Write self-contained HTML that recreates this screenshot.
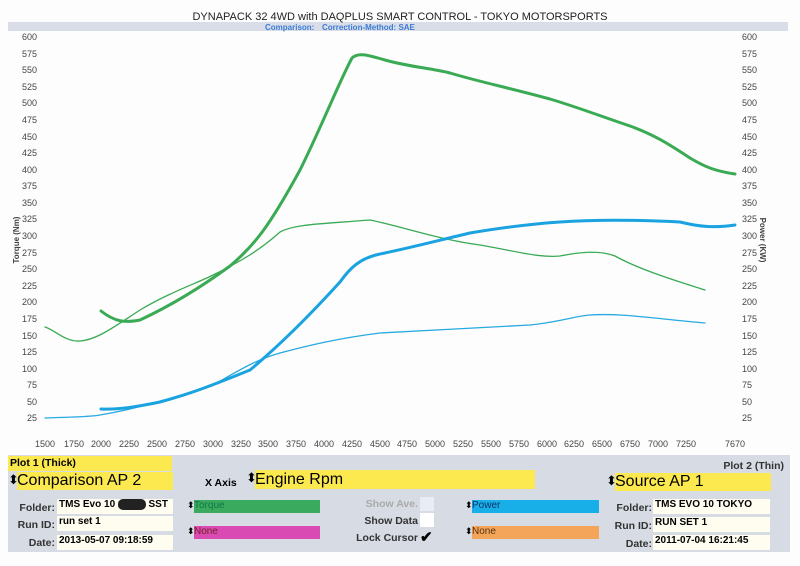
<!DOCTYPE html>
<html><head><style>
body{margin:0;background:#fff;font-family:"Liberation Sans",sans-serif;}
.w{position:relative;width:800px;height:566px;overflow:hidden;background:#fdfdfd}
.a{position:absolute;white-space:nowrap}
.y{background:#fce94f}
.f{background:#fffdf0;font-size:10px;font-weight:bold;padding-left:2px;box-sizing:border-box}
.l{font-size:10.5px;font-weight:bold;color:#333;text-align:right}
</style></head><body><div class="w">
<svg width="800" height="566" style="position:absolute;left:0;top:0">
<rect x="8" y="22" width="780" height="9" fill="#d8dde8"/>
<text x="400" y="20" font-size="11" text-anchor="middle" fill="#222" font-family="Liberation Sans">DYNAPACK 32 4WD with DAQPLUS SMART CONTROL - TOKYO MOTORSPORTS</text>
<text x="265" y="30" font-size="8" fill="#3a7bd5" font-weight="bold" font-family="Liberation Sans">Comparison:</text>
<text x="322" y="30" font-size="8" fill="#3a7bd5" font-weight="bold" font-family="Liberation Sans">Correction-Method: SAE</text>
<g font-size="9" fill="#444" font-family="Liberation Sans">
<text x="37" y="40" text-anchor="end">600</text><text x="742" y="40">600</text>
<text x="37" y="57" text-anchor="end">575</text><text x="742" y="57">575</text>
<text x="37" y="73" text-anchor="end">550</text><text x="742" y="73">550</text>
<text x="37" y="90" text-anchor="end">525</text><text x="742" y="90">525</text>
<text x="37" y="106" text-anchor="end">500</text><text x="742" y="106">500</text>
<text x="37" y="123" text-anchor="end">475</text><text x="742" y="123">475</text>
<text x="37" y="140" text-anchor="end">450</text><text x="742" y="140">450</text>
<text x="37" y="156" text-anchor="end">425</text><text x="742" y="156">425</text>
<text x="37" y="173" text-anchor="end">400</text><text x="742" y="173">400</text>
<text x="37" y="189" text-anchor="end">375</text><text x="742" y="189">375</text>
<text x="37" y="206" text-anchor="end">350</text><text x="742" y="206">350</text>
<text x="37" y="222" text-anchor="end">325</text><text x="742" y="222">325</text>
<text x="37" y="239" text-anchor="end">300</text><text x="742" y="239">300</text>
<text x="37" y="256" text-anchor="end">275</text><text x="742" y="256">275</text>
<text x="37" y="272" text-anchor="end">250</text><text x="742" y="272">250</text>
<text x="37" y="289" text-anchor="end">225</text><text x="742" y="289">225</text>
<text x="37" y="305" text-anchor="end">200</text><text x="742" y="305">200</text>
<text x="37" y="322" text-anchor="end">175</text><text x="742" y="322">175</text>
<text x="37" y="339" text-anchor="end">150</text><text x="742" y="339">150</text>
<text x="37" y="355" text-anchor="end">125</text><text x="742" y="355">125</text>
<text x="37" y="372" text-anchor="end">100</text><text x="742" y="372">100</text>
<text x="37" y="388" text-anchor="end">75</text><text x="742" y="388">75</text>
<text x="37" y="405" text-anchor="end">50</text><text x="742" y="405">50</text>
<text x="37" y="421" text-anchor="end">25</text><text x="742" y="421">25</text>
<g text-anchor="middle">
<text x="45" y="447">1500</text><text x="74" y="447">1750</text><text x="101" y="447">2000</text><text x="129" y="447">2250</text><text x="157" y="447">2500</text><text x="185" y="447">2750</text><text x="213" y="447">3000</text><text x="241" y="447">3250</text><text x="268" y="447">3500</text><text x="296" y="447">3750</text><text x="324" y="447">4000</text><text x="352" y="447">4250</text><text x="380" y="447">4500</text><text x="407" y="447">4750</text><text x="435" y="447">5000</text><text x="463" y="447">5250</text><text x="491" y="447">5500</text><text x="519" y="447">5750</text><text x="547" y="447">6000</text><text x="574" y="447">6250</text><text x="602" y="447">6500</text><text x="630" y="447">6750</text><text x="658" y="447">7000</text><text x="686" y="447">7250</text><text x="735" y="447">7670</text>
</g>
<text transform="translate(19,240) rotate(-90)" font-size="8" font-weight="bold" text-anchor="middle">Torque (Nm)</text>
<text transform="translate(760,240) rotate(90)" font-size="8" font-weight="bold" text-anchor="middle">Power (KW)</text>
</g>
<g fill="none" stroke-linejoin="round" stroke-linecap="round">
<path d="M45,327 C55,330 65,342 80,341 C95,340 110,330 140,310 C170,292 200,282 213,275 C240,262 260,250 280,232 C295,224 320,224 370,220 C400,226 440,240 480,245 C520,252 540,258 560,256 C580,252 600,250 615,256 C640,270 680,282 705,290" stroke="#3aaa55" stroke-width="1.3"/>
<path d="M101,311 C115,322 125,323 140,320 C170,306 200,288 230,266 C255,245 270,225 300,170 C320,130 340,80 352,58 C358,52 368,55 385,60 C410,67 430,68 450,73 C480,82 510,88 550,99 C580,108 600,116 630,126 C655,135 670,145 690,158 C705,167 715,171 735,174" stroke="#3aaa55" stroke-width="3"/>
<path d="M45,418 C70,417 90,417 100,415 C130,410 160,402 213,385 C240,370 255,360 280,353 C310,345 340,338 380,333 C430,330 480,328 530,325 C560,322 575,316 590,315 C620,313 650,318 705,323" stroke="#27a9e1" stroke-width="1.3"/>
<path d="M101,409 C120,410 140,406 160,402 C190,394 213,385 250,370 C280,345 310,315 340,282 C350,268 360,258 380,254 C410,248 440,240 470,233 C500,228 530,224 560,222 C600,219 640,220 680,222 C700,227 715,228 735,225" stroke="#1aa3e0" stroke-width="3"/>
</g>
<rect x="8" y="455" width="782" height="97" fill="#d6dbe4"/>
</svg>
<div class="a y" style="left:8px;top:456px;width:164px;height:15px;font-size:10.5px;font-weight:bold;padding:1px 2px;box-sizing:border-box">Plot 1 (Thick)</div>
<div class="a" style="left:8px;top:472px;font-size:13px">⬍</div>
<div class="a y" style="left:17px;top:472px;width:156px;height:18px;font-size:16px;line-height:18px">Comparison AP 2</div>
<div class="a" style="left:205px;top:477px;font-size:10.5px;font-weight:bold">X Axis</div>
<div class="a" style="left:246px;top:470px;font-size:13px">⬍</div>
<div class="a y" style="left:255px;top:470px;width:280px;height:19px;font-size:16px;line-height:19px">Engine Rpm</div>
<div class="a l" style="left:700px;top:460px;width:84px">Plot 2 (Thin)</div>
<div class="a" style="left:606px;top:473px;font-size:13px">⬍</div>
<div class="a y" style="left:615px;top:473px;width:156px;height:18px;font-size:16px;line-height:18px">Source AP 1</div>
<div class="a l" style="left:10px;top:502px;width:45px">Folder:</div>
<div class="a f" style="left:57px;top:499px;width:116px;height:15px">TMS Evo 10 <span style="background:#222;color:#222;border-radius:5px">xxxxx</span> SST</div>
<div class="a l" style="left:10px;top:519px;width:45px">Run ID:</div>
<div class="a f" style="left:57px;top:516px;width:116px;height:15px">run set 1</div>
<div class="a l" style="left:10px;top:537px;width:45px">Date:</div>
<div class="a f" style="left:57px;top:535px;width:116px;height:15px">2013-05-07 09:18:59</div>
<div class="a" style="left:187px;top:500px;font-size:9px">⬍</div>
<div class="a" style="left:194px;top:500px;width:126px;height:13px;background:#3aaa5f;color:#174;font-size:10px">Torque</div>
<div class="a" style="left:187px;top:526px;font-size:9px">⬍</div>
<div class="a" style="left:194px;top:526px;width:126px;height:13px;background:#d94ab2;color:#722;font-size:10px">None</div>
<div class="a l" style="left:340px;top:498px;width:78px;color:#aaa">Show Ave.</div>
<div class="a" style="left:420px;top:497px;width:14px;height:14px;background:#e8ecf4"></div>
<div class="a l" style="left:340px;top:515px;width:78px">Show Data</div>
<div class="a" style="left:420px;top:513px;width:14px;height:14px;background:#fff"></div>
<div class="a l" style="left:340px;top:532px;width:78px">Lock Cursor</div>
<div class="a" style="left:420px;top:528px;font-size:15px;font-weight:bold">✔</div>
<div class="a" style="left:465px;top:500px;font-size:9px">⬍</div>
<div class="a" style="left:472px;top:500px;width:127px;height:13px;background:#18aee8;color:#136;font-size:10px">Power</div>
<div class="a" style="left:465px;top:526px;font-size:9px">⬍</div>
<div class="a" style="left:472px;top:526px;width:127px;height:13px;background:#f5a55a;color:#531;font-size:10px">None</div>
<div class="a l" style="left:610px;top:502px;width:42px">Folder:</div>
<div class="a f" style="left:653px;top:499px;width:117px;height:15px">TMS EVO 10 TOKYO</div>
<div class="a l" style="left:610px;top:520px;width:42px">Run ID:</div>
<div class="a f" style="left:653px;top:517px;width:117px;height:15px">RUN SET 1</div>
<div class="a l" style="left:610px;top:538px;width:42px">Date:</div>
<div class="a f" style="left:653px;top:535px;width:117px;height:15px">2011-07-04 16:21:45</div>
</div></body></html>
